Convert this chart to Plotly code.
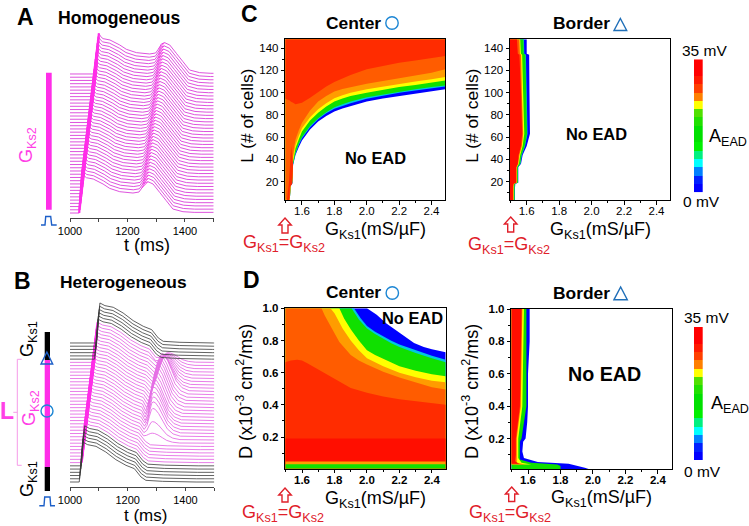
import plotly.graph_objects as go

W, H = 749, 526
FONT = "Liberation Sans"

# ---------- waterfall data (stack offsets in mV above the axis) ----------
a_offsets = [14,23.7,33.4,43,52.8,62.5,72.2,81.9,91.6,101.3,111,120.7,130.4,140.1,149.8,159.5,169.2,178.9,188.6,198.3,208,217.7,
             227.4,237.1,246.8,256.5,266.2,275.9,285.6,295.3,305,314.7,324.4,334.1,343.8,353.5,363.2,372.9,382.6,392.3,402,411.7,421.4,431.1]
a_activation = [1032,1033.3,1034.7,1036,1037.4,1038.7,1040.1,1041.4,1042.8,1044.1,1045.5,1046.8,1048.2,1049.5,1050.9,1052.2,1053.6,1054.9,
                1056.3,1057.6,1059,1060.3,1061.7,1063,1064.4,1065.7,1067.1,1068.4,1069.8,1071.1,1072.5,1073.8,1075.2,1076.5,1077.9,1079.2,
                1080.6,1081.9,1083.3,1084.6,1086,1087.3,1088.7,1090]
a_wave_t = [0,10.4,17,25,49,83,106,141,187,208,218,228,239,257,280,303,326,361,400]
a_wave_v = [0,122,112,106,102,87,74,64,60,63,75,90,94,87,62,37,12,4,2]

b_offsets = [15,24.7,34.4,44,53.8,63.5,73.2,82.9,92.6,102.3,112,121.7,131.4,141.1,150.8,160.5,170.2,179.9,189.6,199.3,209,218.7,
             228.4,238.1,247.8,257.5,267.2,276.9,286.6,296.3,306,315.7,325.4,335.1,344.8,354.5,364.2,373.9,383.6,393.3,403,412.7,422.4,432.1]
b_activation = [1032,1033.4,1034.8,1036.2,1037.6,1039,1040.4,1041.8,1043.2,1044.6,1046,1047.4,1048.8,1050.2,1051.6,1053,1054.4,1055.8,
                1057.2,1058.6,1060,1061.4,1062.8,1064.2,1065.6,1067,1068.4,1069.8,1071.2,1072.6,1074,1075.4,1076.8,1078.2,1079.6,1081,
                1082.4,1083.8,1085.2,1086.6,1088,1089.4,1090.8,1092]
b_wave_t = [0,11.6,29,58,92,127,162,191,214,231,289,405]
b_wave_v = [0,120,112,107,90,67,50,40,15,5,2,0]
b_ead_peak = [0,0,0,0,0,0,0,0,0,0,0,0,30,55,85,95,100,105,110,112,114,116,118,120,120,120,118,116,114,100,88,78,70,60,52,44,36,29,0,0,0,0,0,0]
b_ead_time = [0,0,0,0,0,0,0,0,0,0,0,0,1285,1286,1287,1288,1289,1290,1290,1291,1292,1295,1298,1301,1304,1307,1310,1314,1318,1320,1322,1325,1327,1330,1332,1335,1338,1340,0,0,0,0,0,0]
b_ead_notch = [0,0,0,0,0,0,0,0,0,0,0,0,22,22,22,22,22,20,20,20,20,20,20,20,20,20,18,18,18,16,16,16,15,15,15,15,15,15,0,0,0,0,0,0]
ead_rise_dt = [-30,-20,-12,-5,0]
ead_rise_frac = [0,0.2,0.62,0.93,1]
ead_fall_dt = [8,20,35,50,70,95]
ead_fall_frac = [0.97,0.82,0.55,0.28,0.1,0.02]

# ---------- panel C, Center: lower edge L of each colour band at G ----------
cc_g = [1.497,1.525,1.53,1.54,1.545,1.56,1.58,1.6,1.65,1.7,1.75,1.8,1.85,1.9,2.0,2.1,2.2,2.3,2.4,2.485]
cc_blue = [3.5,3.5,16,18,35,44,51,57,67,74,79,83,85.7,88,92,94.7,97,99,101,103]
cc_cyan = [3.5,3.5,16.5,18.5,35.5,45,53,59,69,76,81.5,85.5,88,90.5,94.5,97.5,100,102,104,105.5]
cc_green = [3.5,3.5,17,19,36,46,54,60,70,77,82.5,87,89.5,92,96,98.5,101,103,105,106.5]
cc_yellow = [3.5,3.5,18,20,38,50,58,65,75,82,87.5,92,94.7,97,100,102.7,105,107,109,111]
cc_lorange = [3.5,4,19,21,41,53,61,68,78,85,90.5,95,97.7,100,103,105.5,107.5,110,112,114]
cc_orange = [3.5,5,20,23,45,58,66,73,84,92,97,101,103.2,105,108,110.5,113,115.7,118,121]
cc_redor = [94.5,93,92,91.5,91,89.5,90,91,95.5,100.6,105.5,109.6,113,116,121,124.3,127,129,131,133]
cc_spike_g = [1.507,1.52,1.533,1.545,1.54,1.525,1.522]
cc_spike_l = [3.5,20,52,35,18,15,3.5]

# ---------- panel C, Border: right edge G of each colour band at L ----------
cb_l = [3.5,15,18,19,33,36,44,52,63,100,134,135,148]
cb_blue = [1.528,1.528,1.53,1.548,1.548,1.565,1.575,1.6,1.62,1.617,1.615,1.6,1.6]
cb_cyan = [1.526,1.526,1.528,1.546,1.546,1.562,1.57,1.59,1.605,1.6,1.595,1.585,1.583]
cb_green = [1.525,1.525,1.527,1.545,1.545,1.56,1.568,1.588,1.602,1.597,1.592,1.582,1.58]
cb_yellow = [1.52,1.52,1.522,1.54,1.54,1.552,1.56,1.575,1.585,1.578,1.572,1.564,1.56]
cb_orange = [1.518,1.518,1.52,1.538,1.538,1.548,1.555,1.57,1.578,1.57,1.565,1.558,1.555]
cb_red = [1.515,1.515,1.518,1.535,1.535,1.545,1.55,1.565,1.572,1.565,1.555,1.545,1.54]

# ---------- panel D, Center: upper edge D of each colour band at G ----------
dc_blue_g = [1.497,2.0,2.03,2.06,2.12,2.185,2.24,2.29,2.35,2.4,2.485]
dc_blue_d = [1,1,0.98,0.96,0.905,0.857,0.818,0.785,0.76,0.745,0.727]
dc_cyan_g = [1.497,1.92,1.96,2.0,2.05,2.1,2.15,2.2,2.3,2.4,2.485]
dc_cyan_d = [1,1,0.94,0.89,0.855,0.825,0.798,0.775,0.738,0.705,0.68]
dc_green_g = [1.497,1.905,1.95,2.0,2.05,2.1,2.15,2.2,2.3,2.4,2.485]
dc_green_d = [1,1,0.93,0.875,0.84,0.81,0.783,0.76,0.722,0.69,0.665]
dc_yellow_g = [1.497,1.83,1.86,1.9,1.95,2.0,2.05,2.1,2.15,2.2,2.3,2.4,2.485]
dc_yellow_d = [1,1,0.935,0.87,0.80,0.74,0.71,0.685,0.66,0.64,0.612,0.59,0.578]
dc_lorange_g = [1.497,1.775,1.8,1.85,1.9,1.95,2.0,2.1,2.2,2.3,2.4,2.485]
dc_lorange_d = [1,1,0.97,0.875,0.80,0.74,0.69,0.64,0.60,0.572,0.55,0.54]
dc_orange_g = [1.497,1.72,1.74,1.775,1.83,1.9,1.95,2.0,2.1,2.2,2.3,2.4,2.485]
dc_orange_d = [1,1,0.955,0.89,0.79,0.71,0.675,0.65,0.605,0.57,0.538,0.51,0.495]
dc_redor_g = [1.497,1.53,1.57,1.6,1.63,1.7,1.77,1.85,1.9,2.0,2.1,2.2,2.35,2.485]
dc_redor_d = [0.665,0.675,0.68,0.675,0.66,0.62,0.58,0.53,0.505,0.475,0.452,0.435,0.415,0.40]
dc_flat_g = [1.497,2.485]
dc_red_d = [0.19,0.19]
dc_strip_orange_d = [0.048,0.048]
dc_strip_green_d = [0.03,0.03]

# ---------- panel D, Border: right edge G of each colour band at D ----------
db_blue_d = [0.012,0.02,0.03,0.045,0.055,0.08,0.12,0.18,0.2,0.3,0.4,0.6,0.8,1.0]
db_blue_g = [1.973,1.95,1.91,1.85,1.66,1.575,1.565,1.57,1.585,1.595,1.6,1.6,1.61,1.61]
db_green_d = [0.012,0.03,0.04,0.05,0.07,0.1,0.18,0.2,0.4,1.0]
db_green_g = [1.80,1.80,1.78,1.62,1.55,1.55,1.55,1.56,1.59,1.59]
db_yellow_d = [0.04,0.05,0.08,0.2,0.4,1.0]
db_yellow_g = [1.62,1.56,1.54,1.54,1.565,1.575]
db_orange_d = [0.04,0.05,0.08,0.2,0.4,1.0]
db_orange_g = [1.58,1.53,1.53,1.53,1.555,1.565]
db_red_d = [0.045,0.06,0.1,0.2,0.4,1.0]
db_red_g = [1.545,1.52,1.525,1.525,1.55,1.56]

# ---------- colour key ----------
key_levels = list(range(16))
key_colors = ["#0000ff","#0020ff","#0080ff","#00ffff","#00f080","#00f000","#00e000","#00e000",
              "#20e000","#50e000","#ffff00","#ff8000","#ff4000","#ff1a00","#ff0000","#ff0000"]

g_ticks = [1.6,1.8,2.0,2.2,2.4]
g_labels = ["1.6","1.8","2.0","2.2","2.4"]
g_minor = [1.5,1.7,1.9,2.1,2.3]
l_ticks = [20,40,60,80,100,120,140]
l_labels = ["20","40","60","80","100","120","140"]
l_minor = [10,30,50,70,90,110,130]
d_ticks = [0.2,0.4,0.6,0.8,1.0]
d_labels = ["0.2","0.4","0.6","0.8","1.0"]
d_minor = [0.1,0.3,0.5,0.7,0.9]
t_ticks = [1000,1200,1400]
t_labels = ["1000","1200","1400"]
t_minor = [1100,1300,1500]

BLUE, CYAN, GREEN, YELLOW = "#0000ff", "#00c8e0", "#10e000", "#ffff00"
LORANGE, ORANGE, REDOR, RED = "#ff9c00", "#ff5c00", "#ff2c00", "#ff0e00"
MAG, MAGLINE, PINK = "#ff2ee8", "#d93fd9", "#e56fe5"
SCHEM_BLUE, ARROW_RED = "#1c5fc8", "#e0202a"

G_RANGE = [1.497, 2.485]
L_RANGE = [3.5, 148]
D_RANGE = [0.003, 1.0]
D2_RANGE = [0.012, 1.0]

fig = go.Figure()

def dx(px):
    return px / W

def dy(py):
    return 1 - py / H

def axes(n, x0, x1, ytop, ybot):
    sfx = "" if n == 1 else str(n)
    fig.layout["xaxis" + sfx] = dict(domain=[dx(x0), dx(x1)], anchor="y" + sfx)
    fig.layout["yaxis" + sfx] = dict(domain=[dy(ybot), dy(ytop)], anchor="x" + sfx)

def refs(n):
    sfx = "" if n == 1 else str(n)
    return dict(xaxis="x" + sfx, yaxis="y" + sfx)

def poly(n, xs, ys, color):
    fig.add_trace(go.Scatter(x=xs, y=ys, mode="lines", fill="toself", fillcolor=color,
                             line=dict(width=0, color=color), hoverinfo="skip", showlegend=False, **refs(n)))

def band_above(n, g, low, color):
    poly(n, g + [G_RANGE[1], G_RANGE[0]], low + [L_RANGE[1], L_RANGE[1]], color)

def band_below(n, g, up, color, ymin):
    poly(n, g + [G_RANGE[1], G_RANGE[0]], up + [ymin, ymin], color)

def band_right(n, ys, g, color):
    poly(n, [G_RANGE[0]] + g + [G_RANGE[0]], [ys[0]] + ys + [ys[-1]], color)

def line(n, xs, ys, color, width):
    fig.add_trace(go.Scatter(x=xs, y=ys, mode="lines", line=dict(color=color, width=width, simplify=False),
                             hoverinfo="skip", showlegend=False, **refs(n)))

axes(1, 70, 213.7, 30, 217.7)
axes(2, 70, 214.3, 300, 487)
axes(3, 285.3, 445.3, 39.3, 200)
axes(4, 510, 670.3, 39.3, 200)
axes(5, 285.3, 445.7, 308.3, 468.7)
axes(6, 511.3, 671.7, 309, 469)
axes(7, 694, 702.7, 59.3, 192.3)
axes(8, 694, 702.7, 327, 460.3)

# ---------- panel A ----------
up_x, up_y, ead_x, ead_y = [], [], [], []
for off, ta in zip(a_offsets, a_activation):
    xs = [1000] + [ta + t for t in a_wave_t] + [1500]
    ys = [off] + [off + v for v in a_wave_v] + [off + 2]
    line(1, xs, ys, MAGLINE, 0.9)
    up_x += [ta + a_wave_t[0], ta + a_wave_t[1], None]
    up_y += [off + a_wave_v[0], off + a_wave_v[1], None]
    ead_x += [ta + a_wave_t[10], ta + a_wave_t[12], None]
    ead_y += [off + a_wave_v[10], off + a_wave_v[12], None]
line(1, up_x, up_y, MAG, 2.2)
line(1, ead_x, ead_y, MAG, 0.9)

# ---------- panel B ----------
def b_trace(i):
    off, ta = b_offsets[i], b_activation[i]
    if b_ead_peak[i] == 0:
        ts = [ta + t for t in b_wave_t]
        vs = list(b_wave_v)
    else:
        te, pk, nt = b_ead_time[i], b_ead_peak[i], b_ead_notch[i]
        keep = [k for k, t in enumerate(b_wave_t) if ta + t < te - 40]
        ts = [ta + b_wave_t[k] for k in keep] + [te + d for d in ead_rise_dt] + [te + d for d in ead_fall_dt]
        vs = [b_wave_v[k] for k in keep] + [nt + (pk - nt) * r for r in ead_rise_frac] + [pk * f for f in ead_fall_frac]
    return [1000] + ts + [1500], [off] + [off + v for v in vs] + [off]

for i in range(6, 38):
    xs, ys = b_trace(i)
    line(2, xs, ys, PINK, 0.9)
up_x, up_y = [], []
for i in range(6, 38):
    up_x += [b_activation[i], b_activation[i] + b_wave_t[1], None]
    up_y += [b_offsets[i], b_offsets[i] + b_wave_v[1], None]
line(2, up_x, up_y, MAG, 2.2)
for i in list(range(0, 6)) + list(range(38, 44)):
    xs, ys = b_trace(i)
    line(2, xs, ys, "#3a3a3a", 0.8)

# ---------- panel C centre ----------
for vals, col in [(cc_blue, BLUE), (cc_cyan, CYAN), (cc_green, GREEN), (cc_yellow, YELLOW),
                  (cc_lorange, LORANGE), (cc_orange, ORANGE), (cc_redor, REDOR)]:
    band_above(3, cc_g, vals, col)
poly(3, cc_spike_g, cc_spike_l, REDOR)

# ---------- panel C border ----------
for vals, col in [(cb_blue, BLUE), (cb_cyan, CYAN), (cb_green, GREEN), (cb_yellow, YELLOW),
                  (cb_orange, ORANGE), (cb_red, RED)]:
    band_right(4, cb_l, vals, col)

# ---------- panel D centre ----------
for g, d, col in [(dc_blue_g, dc_blue_d, BLUE), (dc_cyan_g, dc_cyan_d, CYAN), (dc_green_g, dc_green_d, GREEN),
                  (dc_yellow_g, dc_yellow_d, YELLOW), (dc_lorange_g, dc_lorange_d, LORANGE),
                  (dc_orange_g, dc_orange_d, ORANGE), (dc_redor_g, dc_redor_d, REDOR),
                  (dc_flat_g, dc_red_d, RED), (dc_flat_g, dc_strip_orange_d, LORANGE),
                  (dc_flat_g, dc_strip_green_d, GREEN)]:
    band_below(5, g, d, col, D_RANGE[0])

# ---------- panel D border ----------
for d, g, col in [(db_blue_d, db_blue_g, BLUE), (db_green_d, db_green_g, GREEN), (db_yellow_d, db_yellow_g, YELLOW),
                  (db_orange_d, db_orange_g, ORANGE), (db_red_d, db_red_g, RED)]:
    band_right(6, d, g, col)

# ---------- colour keys ----------
n_lv = len(key_colors)
scale = []
for k, c in enumerate(key_colors):
    scale += [[k / n_lv, c], [(k + 1) / n_lv, c]]
for n in (7, 8):
    fig.add_trace(go.Heatmap(z=[[v] for v in key_levels], zmin=-0.5, zmax=n_lv - 0.5, colorscale=scale,
                             showscale=False, hoverinfo="skip", **refs(n)))

# ---------- axis styling ----------
for sfx in ("", "2"):
    fig.layout["xaxis" + sfx].update(range=[1000, 1500], tickmode="array", tickvals=t_ticks, ticktext=t_labels, ticks="outside",
                                     ticklen=3, tickwidth=1, tickcolor="#444", showline=True, linecolor="#444", linewidth=1.3,
                                     showgrid=False, zeroline=False, tickfont=dict(family=FONT, size=11, color="black"), tickangle=0,
                                     minor=dict(tickmode="array", tickvals=t_minor, ticks="outside", ticklen=3, tickcolor="#444"))
fig.layout["yaxis"].update(range=[0, 563], visible=False)
fig.layout["yaxis2"].update(range=[0, 561], visible=False)

def frame(n, yr, yt, yl, ym, weight="normal"):
    sfx = "" if n == 1 else str(n)
    f = dict(family=FONT, size=11.5, color="black", weight=weight)
    fig.layout["xaxis" + sfx].update(range=G_RANGE, tickmode="array", tickvals=g_ticks, ticktext=g_labels, ticks="outside",
                                     ticklen=3.5, tickwidth=1, tickcolor="black", showline=True, mirror=True, linecolor="black",
                                     linewidth=1, showgrid=False, zeroline=False, tickfont=f, tickangle=0, ticklabelstandoff=-3,
                                     minor=dict(tickmode="array", tickvals=g_minor, ticks="outside", ticklen=2, tickcolor="black"))
    fig.layout["yaxis" + sfx].update(range=yr, tickmode="array", tickvals=yt, ticktext=yl, ticks="outside",
                                     ticklen=3.5, tickwidth=1, tickcolor="black", showline=True, mirror=True, linecolor="black",
                                     linewidth=1, showgrid=False, zeroline=False, tickfont=f,
                                     minor=dict(tickmode="array", tickvals=ym, ticks="outside", ticklen=2, tickcolor="black"))

frame(3, L_RANGE, l_ticks, l_labels, l_minor)
frame(4, L_RANGE, l_ticks, l_labels, l_minor)
frame(5, D_RANGE, d_ticks, d_labels, d_minor, "bold")
frame(6, D2_RANGE, d_ticks, d_labels, d_minor, "bold")
for sfx in ("7", "8"):
    fig.layout["xaxis" + sfx].update(visible=False)
    fig.layout["yaxis" + sfx].update(visible=False, range=[-0.5, n_lv - 0.5])

# ---------- texts ----------
ann = []
def text(x, y, s, size, color="black", bold=False, angle=0):
    ann.append(dict(x=dx(x), y=dy(y), xref="paper", yref="paper", text=("<b>%s</b>" % s) if bold else s,
                    showarrow=False, xanchor="center", yanchor="middle", textangle=angle,
                    font=dict(family=FONT, size=size, color=color)))

for x, y, s in [(25, 17, "A"), (22, 281, "B"), (249, 14, "C"), (251, 280, "D")]:
    text(x, y, s, 23, bold=True)
text(119, 18, "Homogeneous", 17.6, bold=True)
text(123, 282, "Heterogeneous", 17.4, bold=True)
text(353, 23, "Center", 17.4, bold=True)
text(581, 23, "Border", 17.4, bold=True)
text(353, 292, "Center", 17.4, bold=True)
text(581, 293, "Border", 17.4, bold=True)
text(375.7, 157.7, "No EAD", 16.4, bold=True)
text(596, 134, "No EAD", 16.4, bold=True)
text(412, 318, "No EAD", 16.4, bold=True)
text(604, 373.7, "No EAD", 19.7, bold=True)
text(147, 245, "t (ms)", 18)
text(145, 515, "t (ms)", 17)
GX = "G<sub>Ks1</sub>(mS/µF)"
for x, y in [(375, 230), (600, 230), (375, 499), (601, 498)]:
    text(x, y, GX, 18)
GEQ = "G<sub>Ks1</sub>=G<sub>Ks2</sub>"
for x, y in [(284, 243), (508.5, 245), (283, 513), (509.5, 513)]:
    text(x, y, GEQ, 18, ARROW_RED)
text(246.7, 116, "L (# of cells)", 17.4, angle=-90)
text(471.7, 116, "L (# of cells)", 17.4, angle=-90)
DY = "D (x10<sup>-3</sup> cm<sup>2</sup>/ms)"
text(244, 392, DY, 18, angle=-90)
text(470, 392, DY, 18, angle=-90)
for x, y, s in [(704, 50, "35 mV"), (701.7, 201.7, "0 mV"), (706.7, 317, "35 mV"), (702, 471, "0 mV")]:
    text(x, y, s, 15.5)
AE = "A<sub>EAD</sub>"
text(728, 137, AE, 18)
text(730, 404, AE, 18)
text(28, 145, "G<sub>Ks2</sub>", 18, "#ff40e6", angle=-90)
text(30, 408, "G<sub>Ks2</sub>", 18, "#ff40e6", angle=-90)
text(28, 339, "G<sub>Ks1</sub>", 18, angle=-90)
text(28, 479, "G<sub>Ks1</sub>", 18, angle=-90)
text(7, 411, "L", 23, "#ff40e6", bold=True)
fig.update_layout(annotations=ann)

# ---------- schematic decorations ----------
sh = []
def rect(x0, y0, x1, y1, color):
    sh.append(dict(type="rect", xref="paper", yref="paper", x0=dx(x0), x1=dx(x1), y0=dy(y0), y1=dy(y1),
                   fillcolor=color, line=dict(width=0)))

def path(pts, color, width, closed=False, fill=None):
    d = "M" + " L".join("%.5f,%.5f" % (dx(x), dy(y)) for x, y in pts) + (" Z" if closed else "")
    sh.append(dict(type="path", xref="paper", yref="paper", path=d, line=dict(color=color, width=width),
                   fillcolor=fill if fill else "rgba(0,0,0,0)"))

def circle(cx, cy, r, color, width=1.4):
    sh.append(dict(type="circle", xref="paper", yref="paper", x0=dx(cx - r), x1=dx(cx + r), y0=dy(cy + r), y1=dy(cy - r),
                   line=dict(color=color, width=width)))

def triangle(x0, x1, ytop, ybot, color):
    path([(x0, ybot), ((x0 + x1) / 2, ytop), (x1, ybot)], color, 1.4, closed=True)

def up_arrow(cx, ytop, ybot):
    path([(cx, ytop), (cx + 6.3, ytop + 7), (cx + 3, ytop + 7), (cx + 3, ybot), (cx - 3, ybot), (cx - 3, ytop + 7), (cx - 6.3, ytop + 7)],
         ARROW_RED, 1.4, closed=True)

rect(46, 72.7, 51.7, 209.7, MAG)
path([(41, 225), (45, 225), (45.7, 216.5), (50.7, 216.5), (51.7, 225), (56.7, 225)], SCHEM_BLUE, 1.4)
rect(44.7, 332, 50, 360, "black")
rect(44.7, 360, 50, 467, MAG)
rect(44.7, 467, 50, 491, "black")
triangle(41, 52.7, 352, 364, SCHEM_BLUE)
circle(47, 411, 6, "#1c86d4")
path([(39.3, 505.7), (44, 505.7), (44.7, 497), (50, 497), (50.7, 505.7), (55, 505.7)], SCHEM_BLUE, 1.4)
path([(21.7, 359.3), (17.3, 359.3), (17.3, 465.3), (21.7, 465.3)], "#f59ae8", 1)
path([(17.3, 412.3), (13.3, 412.3)], "#f59ae8", 1)
circle(392, 23, 6.2, "#1c86d4")
circle(392.3, 293, 6.2, "#1c86d4")
triangle(614, 626.7, 18.5, 30.5, "#1f6fb8")
triangle(614, 627.3, 287, 299.7, "#1f6fb8")
up_arrow(285, 218, 233)
up_arrow(510.7, 217, 232)
up_arrow(285, 488, 502)
up_arrow(511.7, 487, 501.5)
fig.update_layout(shapes=sh)

fig.update_layout(width=W, height=H, autosize=False, margin=dict(l=0, r=0, t=0, b=0, autoexpand=False),
                  paper_bgcolor="white", plot_bgcolor="white", showlegend=False,
                  font=dict(family=FONT))
fig.write_html("out.html", config=dict(displayModeBar=False),
               post_script="document.body.style.margin='0';document.body.style.overflow='hidden';")
